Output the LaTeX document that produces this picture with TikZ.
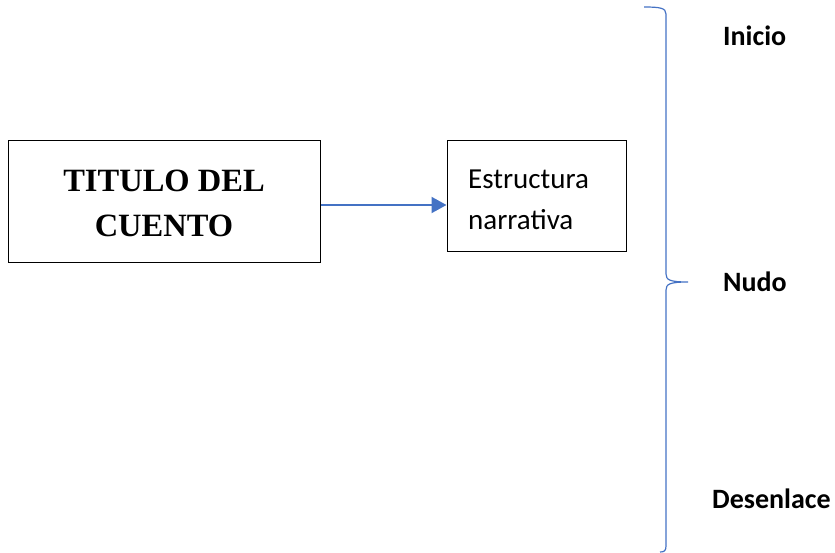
\documentclass[tikz,border=0pt]{standalone}
\usepackage{fontspec}
\setmainfont{Carlito}
\newfontfamily\titlefont{Liberation Serif}
\usetikzlibrary{arrows.meta}
\definecolor{braceblue}{RGB}{68,114,196}

\begin{document}
\begin{tikzpicture}[x=1pt,y=-1pt]
          \useasboundingbox (0,0) rectangle (835,553);
          \node (titulo) [draw, line width=1pt, minimum width=312pt, minimum height=122pt, inner sep=0pt] at (164,202) {};
          \node (estructura) [draw, line width=1pt, minimum width=179pt, minimum height=111pt, inner sep=0pt] at (536.5,196.5) {};
          \node (titulotxt) [anchor=base, align=center, inner sep=0pt, font=\titlefont\bfseries\fontsize{32.5}{45}\selectfont] at (164,236.5) {TITULO DEL\\CUENTO};
          \node (estructuratxt) [anchor=base west, align=left, inner sep=0pt, font=\fontsize{29}{41}\selectfont] at (468,230) {Estructura\\narrativa};
          \draw [-{Triangle[length=15pt,width=16pt]}, line width=2pt, braceblue] ([yshift=-3pt]titulo.east) -- ([yshift=-3pt]titulo.east -| estructura.west);
          \draw [braceblue, line width=1.2pt] (644,7) .. controls (660,7) and (666,8) .. (666,14) -- (666,274) .. controls (666,280) and (670,282) .. (688,282) .. controls (670,282) and (666,284) .. (666,290) -- (666,546) .. controls (666,551) and (664,552) .. (660,552);
	    \node (inicio) [anchor=base west, inner sep=0pt] at (723,46) {\fontsize{28}{34}\selectfont\bfseries Inicio};
	    \node (nudo) [anchor=base west, inner sep=0pt] at (723,291) {\fontsize{28}{34}\selectfont\bfseries Nudo};
	    \node (desenlace) [anchor=base west, inner sep=0pt] at (712,508) {\fontsize{28}{34}\selectfont\bfseries Desenlace};
	\end{tikzpicture}
\end{document}
